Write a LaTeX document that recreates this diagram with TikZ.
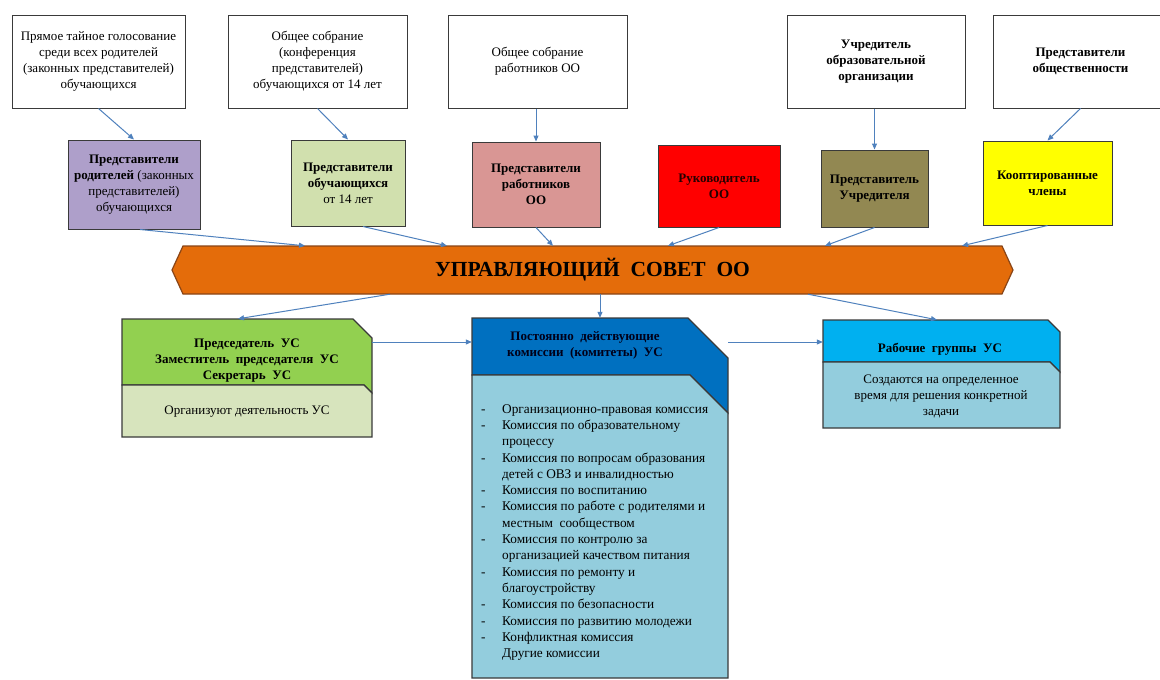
\documentclass[tikz,border=0pt]{standalone}
\usepackage{fontspec}
\setmainfont{Liberation Serif}
\usetikzlibrary{arrows.meta,calc}
\definecolor{arrc}{HTML}{4F81BD}
\definecolor{bordc}{HTML}{3A3A3A}
\definecolor{cpurple}{HTML}{AE9FCA}
\definecolor{cgreenl}{HTML}{D1E0AE}
\definecolor{cpink}{HTML}{D99694}
\definecolor{cred}{HTML}{FF0000}
\definecolor{colive}{HTML}{928852}
\definecolor{cyellow}{HTML}{FFFF00}
\definecolor{corange}{HTML}{E46C0A}
\definecolor{corangeb}{HTML}{8A4516}
\definecolor{cgreenh}{HTML}{92D050}
\definecolor{cgreenb}{HTML}{D7E4BD}
\definecolor{cblueh}{HTML}{0070C0}
\definecolor{cblueb}{HTML}{93CDDD}
\definecolor{ccyanh}{HTML}{00B0F0}
\begin{document}
\begin{tikzpicture}[x=1pt,y=-1pt,
  every node/.style={inner sep=0pt, align=center, font=\fontsize{13}{16}\selectfont},
  topbox/.style={draw=bordc, line width=1pt, fill=white, minimum height=93pt},
  repbox/.style={draw=bordc, line width=1pt},
  boldtxt/.style={font=\fontsize{13}{16}\selectfont\bfseries},
  arr/.style={draw=arrc, line width=1pt, -{Triangle[length=6pt,width=5pt]}},
  frame/.style={draw=bordc, line width=1.1pt},
]
\useasboundingbox (0,0) rectangle (1160,680);
\fill[white] (0,0) rectangle (1160,680);

% top row
\node[topbox, minimum width=173pt] (t1) at (98.5,61.5) {Прямое тайное голосование\\среди всех родителей\\(законных представителей)\\обучающихся};
\node[topbox, minimum width=179pt] (t2) at (317.5,61.5) {Общее собрание\\(конференция\\представителей)\\обучающихся от 14 лет};
\node[topbox, minimum width=179pt] (t3) at (537.5,61.5) {Общее собрание\\работников ОО};
\node[topbox, boldtxt, minimum width=178pt] (t4) at (876,61.5) {Учредитель\\образовательной\\организации};
\node[topbox, boldtxt, minimum width=175pt] (t5) at (1080.5,61.5) {Представители\\общественности};

% second row
\node[repbox, fill=cpurple, minimum width=132pt, minimum height=89pt] (par) at (134,184.5) {\textbf{Представители}\\\textbf{родителей} (законных\\представителей)\\обучающихся};
\node[repbox, fill=cgreenl, minimum width=114pt, minimum height=86pt] (stu) at (348,183) {\textbf{Представители}\\\textbf{обучающихся}\\от 14 лет};
\node[repbox, boldtxt, fill=cpink, minimum width=128pt, minimum height=85pt] (emp) at (536,184.5) {Представители\\работников\\ОО};
\node[repbox, boldtxt, fill=cred, minimum width=122pt, minimum height=82pt, text=black!85!red] (head) at (719,186) {Руководитель\\ОО};
\node[repbox, boldtxt, fill=colive, minimum width=107pt, minimum height=77pt] (fou) at (874.5,188.5) {Представитель\\Учредителя};
\node[repbox, boldtxt, fill=cyellow, minimum width=129pt, minimum height=84pt] (coo) at (1047.5,183) {Кооптированные\\члены};

% arrows top -> second row
\draw[arr] (t1.south) -- (par.north);
\draw[arr] (t2.south) -- (stu.north);
\draw[arr] (emp.north |- t3.south) -- (emp.north);
\draw[arr] (fou.north |- t4.south) -- (fou.north);
\draw[arr] (t5.south) -- (coo.north);

% banner
\coordinate (cc) at (592.5,270);
\path[fill=corange, draw=corangeb, line width=1.2pt] ($(cc)+(-409.5,-24)$) -- ($(cc)+(409.5,-24)$) -- ($(cc)+(420.5,0)$) -- ($(cc)+(409.5,24)$) -- ($(cc)+(-409.5,24)$) -- ($(cc)+(-420.5,0)$) -- cycle;
\node[minimum width=841pt, minimum height=48pt, font=\fontsize{21.5}{26}\selectfont\bfseries] (council) at (cc) {УПРАВЛЯЮЩИЙ\ \ СОВЕТ\ \ ОО};

% arrows second row -> banner
\draw[arr] ([xshift=6pt]par.south) -- (305,0 |- council.north);
\draw[arr] ([xshift=15pt]stu.south) -- (447,0 |- council.north);
\draw[arr] (emp.south) -- (553,0 |- council.north);
\draw[arr] (head.south) -- (668,0 |- council.north);
\draw[arr] (fou.south) -- (825,0 |- council.north);
\draw[arr] (coo.south) -- (962,0 |- council.north);

% chair box
\path[frame, fill=cgreenh] (122,319) -- (353,319) -- (372,338) -- (372,393) -- (364,385) -- (122,385) -- cycle;
\path[frame, fill=cgreenb] (122,385) -- (364,385) -- (372,393) -- (372,437) -- (122,437) -- cycle;
\node[minimum width=250pt, minimum height=118pt] (chair) at (247,378) {};
\node[boldtxt] (chairh) at (247,361) {Председатель\ \ УС\\Заместитель\ \ председателя\ \ УС\\Секретарь\ \ УС};
\node (chairb) at (247,412) {Организуют деятельность УС};

% commissions box
\path[frame, fill=cblueh] (472,318) -- (688,318) -- (728,358) -- (728,413) -- (690,375) -- (472,375) -- cycle;
\path[frame, fill=cblueb] (472,375) -- (690,375) -- (728,413) -- (728,678) -- (472,678) -- cycle;
\node[minimum width=256pt, minimum height=360pt] (comm) at (600,498) {};
\node[boldtxt, text=black!90!blue] (commh) at (585,345) {Постоянно\ \ действующие\\комиссии\ \ (комитеты)\ \ УС};
\node[anchor=north west, align=left, font=\fontsize{13.3}{16.33}\selectfont] (list) at (481,404) {%
\makebox[21pt][l]{-}Организационно-правовая комиссия\\
\makebox[21pt][l]{-}Комиссия по образовательному\\
\hspace*{21pt}процессу\\
\makebox[21pt][l]{-}Комиссия по вопросам образования\\
\hspace*{21pt}детей с ОВЗ и инвалидностью\\
\makebox[21pt][l]{-}Комиссия по воспитанию\\
\makebox[21pt][l]{-}Комиссия по работе с родителями и\\
\hspace*{21pt}местным\ \ сообществом\\
\makebox[21pt][l]{-}Комиссия по контролю за\\
\hspace*{21pt}организацией качеством питания\\
\makebox[21pt][l]{-}Комиссия по ремонту и\\
\hspace*{21pt}благоустройству\\
\makebox[21pt][l]{-}Комиссия по безопасности\\
\makebox[21pt][l]{-}Комиссия по развитию молодежи\\
\makebox[21pt][l]{-}Конфликтная комиссия\\
\hspace*{21pt}Другие комиссии};

% working groups box
\path[frame, fill=ccyanh] (823,320) -- (1048,320) -- (1060,332) -- (1060,372) -- (1050,362) -- (823,362) -- cycle;
\path[frame, fill=cblueb] (823,362) -- (1050,362) -- (1060,372) -- (1060,428) -- (823,428) -- cycle;
\node[minimum width=237pt, minimum height=108pt] (work) at (941.5,374) {};
\node[boldtxt] (workh) at (940,349) {Рабочие\ \ группы\ \ УС};
\node (workb) at (941,396) {Создаются на определенное\\время для решения конкретной\\задачи};

% arrows banner -> lower boxes
\draw[arr] (390,0 |- council.south) -- (238,0 |- chair.north);
\draw[arr] (600,0 |- council.south) -- (600,0 |- comm.north);
\draw[arr] (808,0 |- council.south) -- (937,0 |- work.north);
\draw[arr] (chair.east |- 0,342) -- (comm.west |- 0,342);
\draw[arr] (comm.east |- 0,342) -- (work.west |- 0,342);
\end{tikzpicture}
\end{document}
